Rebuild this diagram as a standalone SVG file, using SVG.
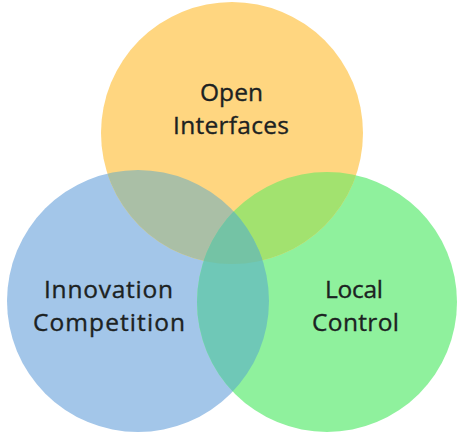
<svg xmlns="http://www.w3.org/2000/svg" width="466" height="438" viewBox="0 0 466 438">
<style>
.lbl{font-family:"Open Sans","Noto Sans",sans-serif;font-size:24.5px;fill:#1c2222;stroke:#1c2222;stroke-width:0.35;text-anchor:middle}
</style>
<defs>
<clipPath id="cL"><circle cx="138" cy="301" r="131"/></clipPath>
<clipPath id="cR"><circle cx="327" cy="302" r="130"/></clipPath>
<clipPath id="cT"><circle cx="232" cy="133" r="131"/></clipPath>
</defs>
<rect width="466" height="438" fill="#ffffff"/>
<g id="innovation-competition">
<circle cx="138" cy="301" r="131" fill="#a3c6e9"/>
</g>
<g id="local-control">
<circle cx="327" cy="302" r="130" fill="#8ff19d"/>
</g>
<g id="open-interfaces">
<circle cx="232" cy="133" r="131" fill="#ffd680"/>
</g>
<g id="overlaps">
<circle cx="232" cy="133" r="131" fill="#aabfa6" clip-path="url(#cL)"/>
<circle cx="232" cy="133" r="131" fill="#a2e26f" clip-path="url(#cR)"/>
<circle cx="138" cy="301" r="131" fill="#6fc8b7" clip-path="url(#cR)"/>
<g clip-path="url(#cT)"><circle cx="138" cy="301" r="131" fill="#74c3a5" clip-path="url(#cR)"/></g>
</g>
<g id="labels">
<text class="lbl" x="231.5" y="100.5" textLength="63">Open</text>
<text class="lbl" x="231" y="134" textLength="116">Interfaces</text>
<text class="lbl" x="108.5" y="298" textLength="129">Innovation</text>
<text class="lbl" x="109" y="331" textLength="152">Competition</text>
<text class="lbl" x="354" y="298" textLength="58">Local</text>
<text class="lbl" x="355.5" y="331" textLength="87">Control</text>
</g>
</svg>
